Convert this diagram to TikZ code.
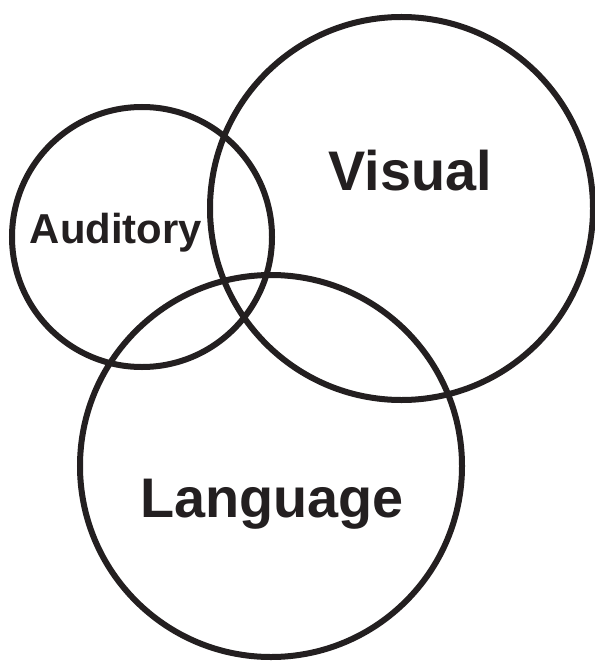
\documentclass[tikz,border=0pt]{standalone}
\usepackage{fontspec}
\setmainfont{Liberation Sans}
\definecolor{inkBlack}{RGB}{35, 31, 32}
\usetikzlibrary{positioning}

\begin{document}
\begin{tikzpicture}[x=1bp, y=-1bp]
    \tikzset{
        ring/.style={circle, draw=inkBlack, line width=6bp, inner sep=0pt, outer sep=0pt},
        word/.style={anchor=base, text=inkBlack, inner sep=0pt, font=\bfseries}
    }
    \useasboundingbox (0,0) rectangle (595,662);
    % the three circles
    \node [ring, minimum size=260bp] (aud) at (142,237) {};
    \node [ring, minimum size=383bp] (vis) at (401.5,208.5) {};
    \node [ring, minimum size=382bp] (lang) at (271,466) {};
    % labels
    \node [word, font=\fontsize{42}{42}\selectfont\bfseries] (audtext) at (116,243) {Auditory};
    \node [word, font=\fontsize{56}{56}\selectfont\bfseries] (vistext) at (410,190) {Visual};
    \node [word, font=\fontsize{56}{56}\selectfont\bfseries] (langtext) at (272,517) {Language};
\end{tikzpicture}
\end{document}
